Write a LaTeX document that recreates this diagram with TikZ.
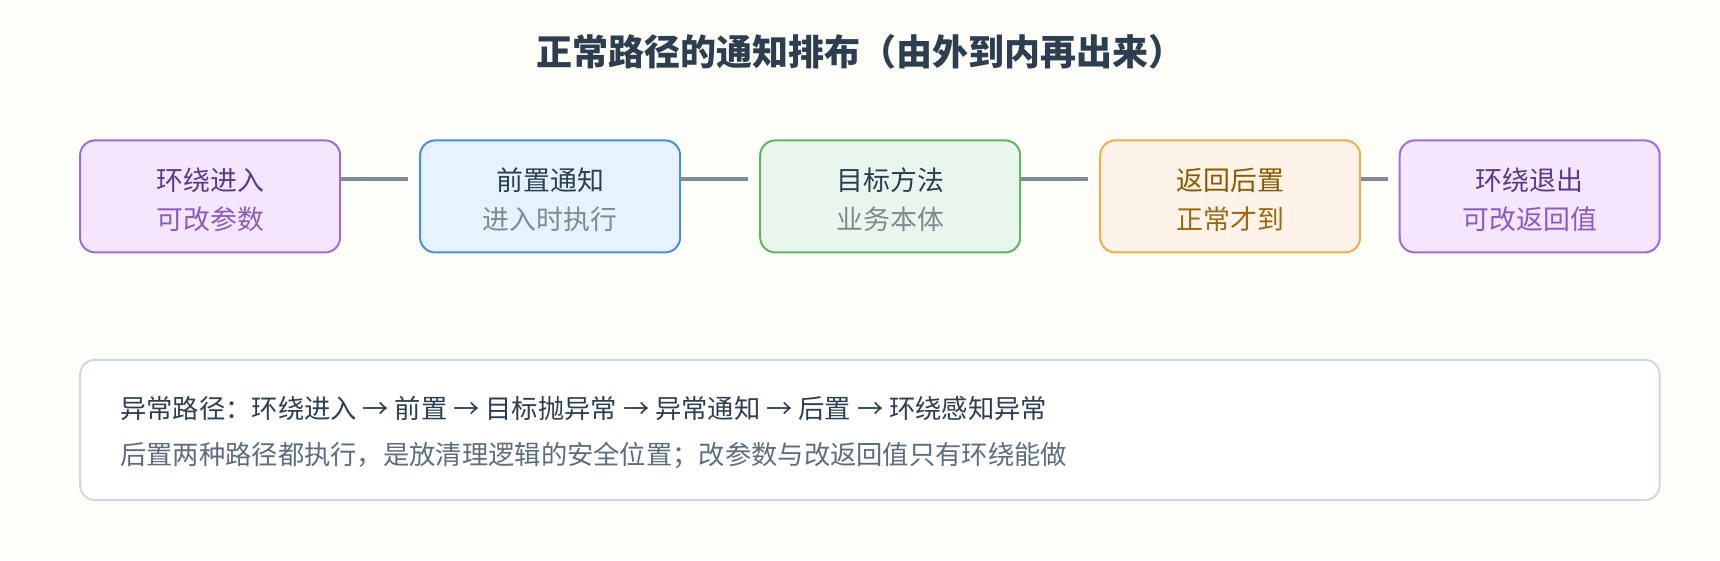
\documentclass[tikz,border=0pt]{standalone}
\usepackage{fontspec}
\setmainfont{Noto Sans CJK SC}
\definecolor{bgc}{RGB}{254,254,248}
\definecolor{titlec}{HTML}{2C3E50}
\definecolor{connc}{HTML}{7F8C96}
\definecolor{pdraw}{HTML}{9B6FD6}
\definecolor{pfill}{HTML}{F5E6FD}
\definecolor{pt1}{HTML}{5B3A8C}
\definecolor{pt2}{HTML}{8A5CC0}
\definecolor{bdraw}{HTML}{4A90D9}
\definecolor{bfill}{HTML}{E6F2FD}
\definecolor{gdraw}{HTML}{5CB85C}
\definecolor{gfill}{HTML}{E8F6EE}
\definecolor{odraw}{HTML}{F0AD4E}
\definecolor{ofill}{HTML}{FEF3E8}
\definecolor{ot1}{HTML}{8A5A00}
\definecolor{ot2}{HTML}{9A6A10}
\definecolor{dt1}{HTML}{2C3E50}
\definecolor{dt2}{HTML}{7F8C8D}
\definecolor{notedraw}{HTML}{CFD8DE}
\definecolor{note2}{HTML}{5D6D7E}
\tikzset{
  stagebox/.style={rounded corners=15pt, line width=2pt, minimum width=260pt,
    minimum height=112pt, inner sep=0pt},
  stagetext/.style={align=center, inner sep=0pt, font=\fontsize{26.9}{39.5}\selectfont},
  conn/.style={draw=connc, line width=4.4pt, shorten >=11pt},
  notetext/.style={anchor=west, inner sep=0pt, font=\fontsize{26.3}{32}\selectfont},
}
\begin{document}
\begin{tikzpicture}[x=1pt,y=1pt]
\useasboundingbox (0,0) rectangle (1720,-560);
\fill[bgc] (0,0) rectangle (1720,-560);
\node[text=titlec, font=\fontsize{36}{42}\selectfont\bfseries] (title) at (860,-51.5) {正常路径的通知排布（由外到内再出来）};

\node[stagebox, draw=pdraw, fill=pfill] (b1) at (210.1,-196.4) {};
\node[stagebox, draw=bdraw, fill=bfill] (b2) at (550.1,-196.4) {};
\node[stagebox, draw=gdraw, fill=gfill] (b3) at (890.2,-196.4) {};
\node[stagebox, draw=odraw, fill=ofill] (b4) at (1230.2,-196.4) {};
\node[stagebox, draw=pdraw, fill=pfill] (b5) at (1529.7,-196.4) {};

\node[stagetext] (t1) at ([yshift=-3.3pt]b1.center) {\color{pt1}环绕进入\\\color{pt2}可改参数};
\node[stagetext] (t2) at ([yshift=-3.3pt]b2.center) {\color{dt1}前置通知\\\color{dt2}进入时执行};
\node[stagetext] (t3) at ([yshift=-3.3pt]b3.center) {\color{dt1}目标方法\\\color{dt2}业务本体};
\node[stagetext] (t4) at ([yshift=-3.3pt]b4.center) {\color{ot1}返回后置\\\color{ot2}正常才到};
\node[stagetext] (t5) at ([yshift=-3.3pt]b5.center) {\color{pt1}环绕退出\\\color{pt2}可改返回值};

\draw[conn] ([yshift=17.6pt]b1.east) -- ([yshift=17.6pt]b2.west);
\draw[conn] ([yshift=17.6pt]b2.east) -- ([yshift=17.6pt]b3.west);
\draw[conn] ([yshift=17.6pt]b3.east) -- ([yshift=17.6pt]b4.west);
\draw[conn] ([yshift=17.6pt]b4.east) -- ([yshift=17.6pt]b5.west);

\node[draw=notedraw, fill=white, line width=2pt, rounded corners=15pt,
  minimum width=1579.6pt, minimum height=140.4pt, inner sep=0pt] (note) at (869.9,-430) {};
\node[notetext, text=dt1] (n1) at (120,-408) {异常路径：环绕进入 → 前置 → 目标抛异常 → 异常通知 → 后置 → 环绕感知异常};
\node[notetext, text=note2] (n2) at (120,-455) {后置两种路径都执行，是放清理逻辑的安全位置；改参数与改返回值只有环绕能做};
\end{tikzpicture}
\end{document}
